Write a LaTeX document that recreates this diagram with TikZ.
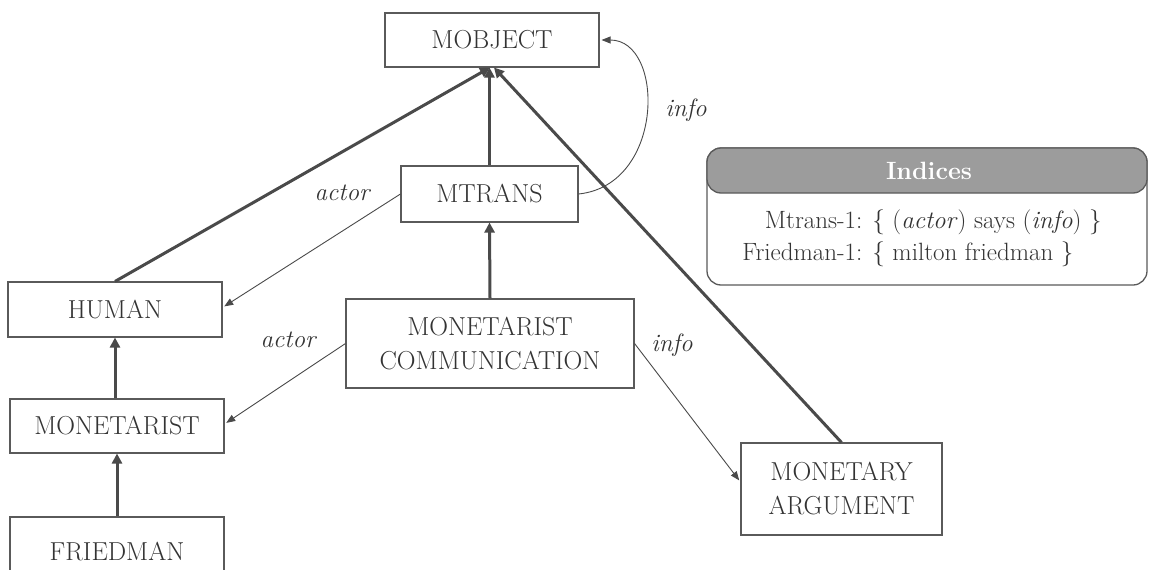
\documentclass[tikz,border=0pt]{standalone}
\usetikzlibrary{arrows.meta}
\definecolor{linec}{HTML}{4A4A4A}
\definecolor{boxc}{HTML}{5A5A5A}
\definecolor{txtc}{HTML}{333333}
\definecolor{headc}{HTML}{9C9C9C}
\tikzset{
  concept/.style={draw=boxc, line width=1.1pt, fill=white, inner sep=0pt,
    font=\fontsize{26}{34}\selectfont, text=txtc, align=center},
  isa/.style={line width=3pt, draw=linec, -{Triangle[width=10pt,length=10pt]}},
  rel/.style={line width=0.9pt, draw=linec, -{Triangle[width=7pt,length=9pt]}, shorten >=2pt},
  rlabel/.style={font=\fontsize{25}{30}\selectfont\itshape, text=txtc, inner sep=0pt},
}
\begin{document}
\begin{tikzpicture}[x=1pt,y=-1pt]
\useasboundingbox (0,0) rectangle (1149,570);
\fill[white] (0,0) rectangle (1149,570);

% concept boxes
\node[concept, minimum width=214, minimum height=54] (mobj) at (492,40) {MOBJECT};
\node[concept, minimum width=177, minimum height=56] (mtrans) at (489.5,194) {MTRANS};
\node[concept, minimum width=214, minimum height=55] (human) at (115,309.5) {HUMAN};
\node[concept, minimum width=214, minimum height=54] (monet) at (117,426) {MONETARIST};
\node[concept, minimum width=214, minimum height=70] (fried) at (117,552) {FRIEDMAN};
\node[concept, minimum width=288, minimum height=89] (mc) at (490,343.5) {MONETARIST\\COMMUNICATION};
\node[concept, minimum width=201, minimum height=92] (ma) at (841.5,489) {MONETARY\\ARGUMENT};

% inheritance (thick) links
\draw[isa] (human.north) -- ([xshift=-2pt]mobj.south);
\draw[isa] (mtrans.north) -- (mtrans.north |- mobj.south);
\draw[isa] (ma.north) -- ([xshift=2pt]mobj.south);
\draw[isa] (mc.north) -- (mtrans.south);
\draw[isa] (monet.north -| human.south) -- (human.south);
\draw[isa] (fried.north -| monet.south) -- (monet.south);

% relation (thin) links
\draw[rel] (mtrans.west) -- ([yshift=2pt]human.east);
\draw[rel] (mc.west) -- ([yshift=2pt]monet.east);
\draw[rel] (mc.east) -- ([yshift=7pt]ma.west);
\draw[rel] (mtrans.east) .. controls (665,185) and (665,40) .. (mobj.east);

% relation labels
\node[rlabel] (lact1) at (342,193) {actor};
\node[rlabel] (lact2) at (288,340) {actor};
\node[rlabel] (linf1) at (686,110) {info};
\node[rlabel] (linf2) at (672,345) {info};

% indices panel
\draw[draw=boxc, line width=1.3pt, fill=white, rounded corners=14pt] (707,148) rectangle (1147,285);
\draw[draw=boxc, line width=1.3pt, fill=headc, rounded corners=14pt] (707,148) rectangle (1147,193);
\node[text=white, font=\fontsize{25}{28}\selectfont\bfseries] (idxhead) at (929,171) {Indices};
\node[text=txtc, font=\fontsize{25}{32}\selectfont, inner sep=0pt] (idxbody) at (922,238)
  {\begin{tabular}{@{}r@{ }l@{}}
   Mtrans-1: & \{ (\textit{actor}) says (\textit{info}) \}\\
   Friedman-1: & \{ milton friedman \}
   \end{tabular}};
\end{tikzpicture}
\end{document}
